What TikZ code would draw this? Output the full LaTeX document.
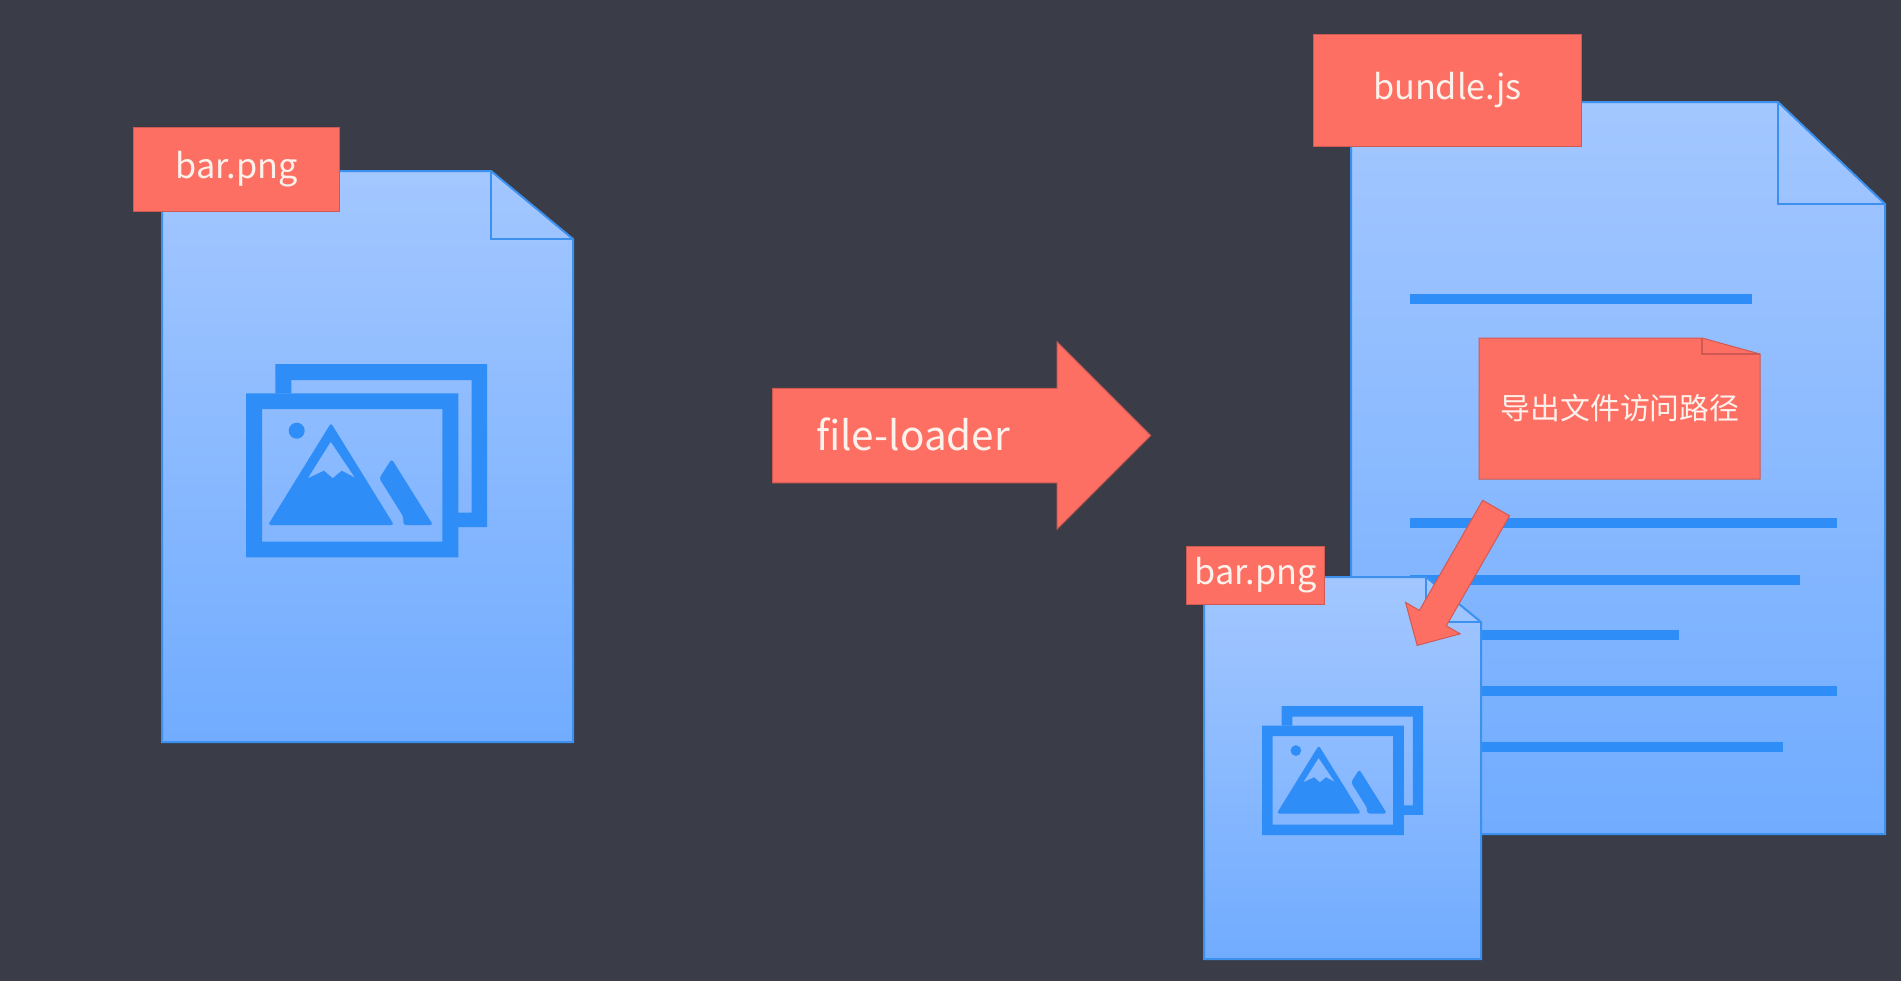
\documentclass[tikz,border=0pt]{standalone}
\usepackage{fontspec}
\setmainfont{Noto Sans CJK SC}
\usetikzlibrary{shapes.arrows}
\definecolor{slatebg}{HTML}{3A3C48}
\definecolor{sheettop}{HTML}{A3C7FF}
\definecolor{sheetbot}{HTML}{71ACFF}
\definecolor{sheetline}{HTML}{3C91EE}
\definecolor{iconblue}{HTML}{2F8DF8}
\definecolor{coral}{HTML}{FD6F63}
\definecolor{coralline}{HTML}{CF5A54}
\definecolor{paper}{HTML}{FDF1EC}
\tikzset{
  sheet/.style={draw=sheetline,line width=0.04cm,top color=sheettop,bottom color=sheetbot},
  crease/.style={draw=sheetline,line width=0.04cm},
  textline/.style={draw=iconblue,line width=0.19cm},
  tagbox/.style={draw=coralline,line width=0.02cm,fill=coral,text=paper,inner sep=0pt,font=\fontsize{19.5}{24}\selectfont},
  blockarrow/.style={single arrow,draw=coralline,line width=0.02cm,fill=coral,single arrow head indent=0pt,shape border rotate=0},
  imgicon/.pic={
    \fill [iconblue] (29.3,29.3) -- (29.3,0) -- (241,0) -- (241,163) -- (212,163) -- (212,148.7) -- (225.7,148.7) -- (225.7,16) -- (45.3,16) -- (45.3,29.3) -- cycle;
    \fill [iconblue,even odd rule] (0,29.3) rectangle (212.3,193.3) (16,45) rectangle (196.3,177.7);
    \fill [iconblue] (50.7,66.7) circle (8);
    \fill [iconblue,even odd rule] [rounded corners=1.5pt] (85,59) -- (148,161) -- (22,161) -- cycle
      [sharp corners] (84.7,77.7) -- (109,113.7) -- (95.7,106.7) -- (86.7,114.3) -- (78,106.7) -- (61.7,114.3) -- cycle;
    \fill [iconblue,rounded corners=1.5pt] (145.7,95) -- (187,161) -- (157.3,161) -- (157.3,152.7) -- (133.3,114.3) -- cycle;
  }
}
\begin{document}
\begin{tikzpicture}[x=0.02cm,y=-0.02cm]
\useasboundingbox (0,0) rectangle (1901,981);
\fill [slatebg] (0,0) rectangle (1901,981);
% source file
\draw [sheet] (162,171) -- (491,171) -- (573,239) -- (573,742) -- (162,742) -- cycle;
\draw [crease] (491,171) -- (491,239) -- (573,239);
\pic at (246,364) {imgicon};
\node [tagbox,minimum width=4.14cm,minimum height=1.7cm] (srctag) at (236.5,169.5) {bar.png};
% loader
\node [blockarrow,inner sep=0.92cm,minimum height=7.56cm,minimum width=3.74cm,single arrow head extend=0.91cm] (loader) at (938,435.5) {};
\node [text=paper,font=\fontsize{23}{28}\selectfont] (loadertext) at (913,434) {file-loader};
% output bundle
\draw [sheet] (1351,102) -- (1778,102) -- (1885,204) -- (1885,834) -- (1351,834) -- cycle;
\draw [crease] (1778,102) -- (1778,204) -- (1885,204);
\node [tagbox,minimum width=5.38cm,minimum height=2.24cm] (bundletag) at (1447.5,90.5) {bundle.js};
\draw [textline] (1410,299) -- (1752,299);
\draw [textline] (1410,523) -- (1837,523);
\draw [textline] (1410,580) -- (1800,580);
\draw [textline] (1410,635) -- (1679,635);
\draw [textline] (1410,691) -- (1837,691);
\draw [textline] (1410,747) -- (1783,747);
% note
\draw [draw=coralline,line width=0.02cm,fill=coral] (1479,338) -- (1702,338) -- (1760,354) -- (1760,479) -- (1479,479) -- cycle;
\draw [draw=coralline,line width=0.03cm] (1702,338) -- (1702,354) -- (1760,354);
\node [text=paper,font=\fontsize{17}{20}\selectfont] (notetext) at (1620,408) {导出文件访问路径};
% emitted image
\draw [sheet] (1204,577) -- (1426,577) -- (1481,622) -- (1481,959) -- (1204,959) -- cycle;
\draw [crease] (1426,577) -- (1426,622) -- (1481,622);
\pic [scale=0.668] at (1262,706) {imgicon};
\node [tagbox,minimum width=2.78cm,minimum height=1.16cm] (imgtag) at (1255.5,575) {bar.png};
\node [blockarrow,rotate=240.1,inner sep=0.3cm,minimum height=3.17cm,minimum width=1.24cm,single arrow head extend=0.32cm] (pointer) at (1460.5,570) {};
\end{tikzpicture}
\end{document}
